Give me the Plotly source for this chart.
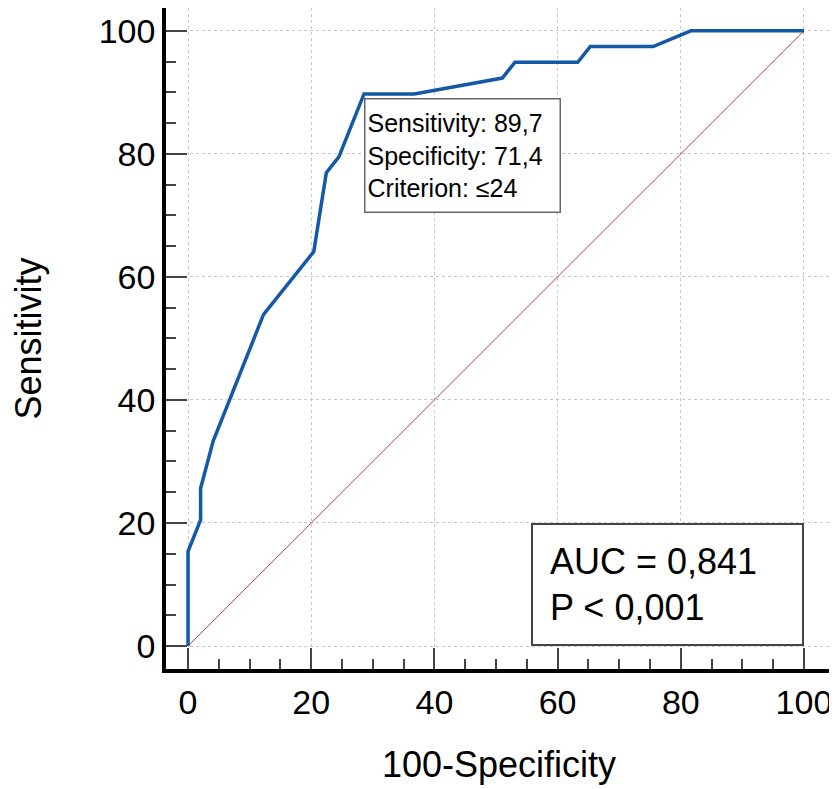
import plotly.graph_objects as go

# ROC curve points (100-Specificity, Sensitivity)
fpr = [0, 0, 2.04, 2.04, 4.08, 12.24, 20.41, 22.45, 24.49, 28.57, 36.73,
       51.02, 53.06, 63.27, 65.31, 75.51, 81.63, 100]
tpr = [0, 15.38, 20.51, 25.64, 33.33, 53.85, 64.10, 76.92, 79.49, 89.74, 89.74,
       92.31, 94.87, 94.87, 97.44, 97.44, 100, 100]
diag = [0, 100]

sens_opt = 89.7
spec_opt = 71.4
criterion = "≤24"
auc = "0,841"
p_value = "0,001"

FONT = "Liberation Sans, Arial, sans-serif"
NB = "\u00a0"


def comma(v):
    return f"{v:.1f}".replace(".", ",")


fig = go.Figure()

fig.add_trace(go.Scatter(x=diag, y=diag, mode="lines",
                         line=dict(color="#b4443a", width=1),
                         hoverinfo="skip"))
fig.add_trace(go.Scatter(x=fpr, y=tpr, mode="lines",
                         line=dict(color="#1458a8", width=3.5)))

# optimal criterion box, top-left corner at the chosen point
fig.add_annotation(
    x=100 - spec_opt, y=sens_opt, xref="x", yref="y",
    xanchor="left", yanchor="top", yshift=-4,
    text=f"Sensitivity: {comma(sens_opt)}<br>Specificity: {comma(spec_opt)}<br>Criterion: {criterion}",
    showarrow=False, align="left", width=190, height=108,
    font=dict(family=FONT, size=25, color="black"),
    bordercolor="#666", borderwidth=1.5, borderpad=2, bgcolor="white")

# AUC box in the lower right corner
fig.add_annotation(
    x=100, y=0, xref="x", yref="y", xanchor="right", yanchor="bottom",
    text=f"{NB}AUC = {auc}<br>{NB}P < {p_value}",
    showarrow=False, align="left", width=255, height=105,
    font=dict(family=FONT, size=36, color="black"),
    bordercolor="#444", borderwidth=2, borderpad=7, bgcolor="white")

axis_style = dict(
    showline=True, linecolor="black", linewidth=3.5, mirror=False,
    ticks="inside", ticklen=21, tickwidth=2, tickcolor="#444",
    dtick=20, tick0=0,
    minor=dict(ticks="inside", ticklen=10, tickwidth=2, tickcolor="#444",
               dtick=5, showgrid=False),
    showgrid=True, gridcolor="#c8c8c8", gridwidth=1, griddash="dot",
    zeroline=False, tickfont=dict(family=FONT, size=34, color="black"),
)

fig.update_xaxes(range=[-3.58, 104.55],
                 title=dict(text="100-Specificity", standoff=33,
                            font=dict(family=FONT, size=36, color="black")),
                 **axis_style)
fig.update_yaxes(range=[-3.73, 103.7],
                 title=dict(text="Sensitivity", standoff=50,
                            font=dict(family=FONT, size=36, color="black")),
                 **axis_style)

# page body adds an 8px offset, so the figure is sized to fit inside the window
fig.update_layout(
    width=829, height=781,
    margin=dict(l=158, r=5, t=0, b=120),
    plot_bgcolor="white", paper_bgcolor="white",
    showlegend=False,
    font=dict(family=FONT, color="black"),
)

fig.write_html("out.html")
